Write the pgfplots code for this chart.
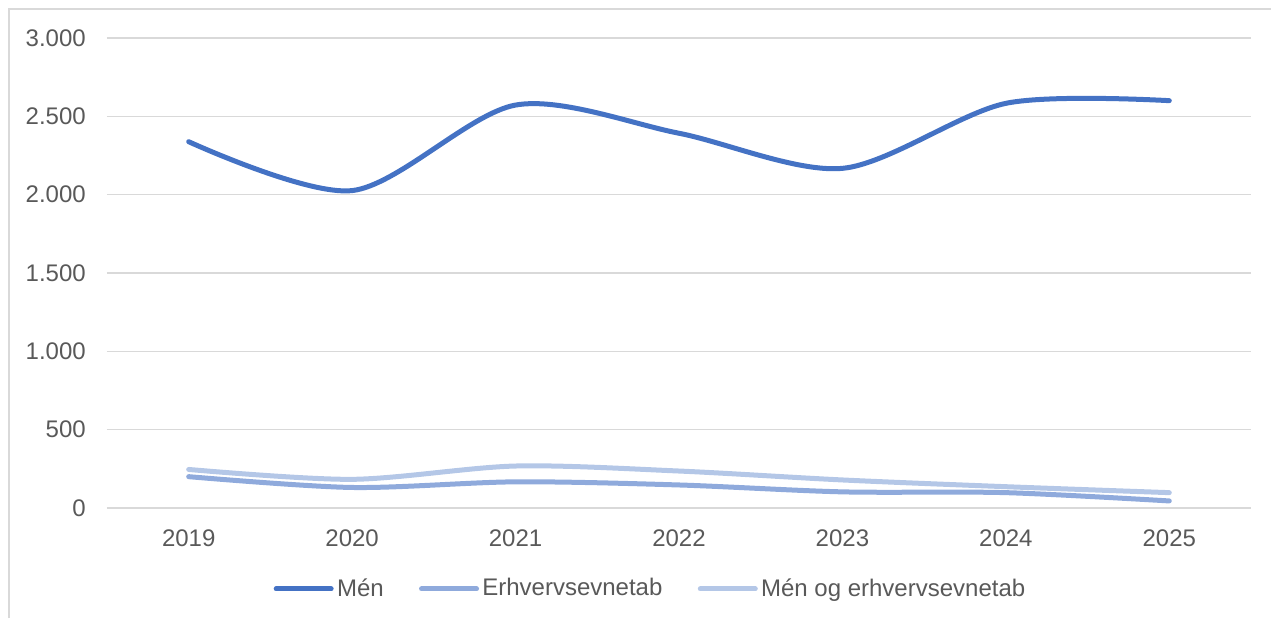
\documentclass[border=0pt]{standalone}
\usepackage{fontspec}
\setmainfont{Liberation Sans}
\usepackage{pgfplots}
\pgfplotsset{compat=1.18}

\definecolor{menblue}{HTML}{4472C4}
\definecolor{erhvblue}{HTML}{8FAADC}
\definecolor{bothblue}{HTML}{B4C7E7}
\definecolor{gridgray}{HTML}{D9D9D9}
\definecolor{textgray}{HTML}{595959}

\begin{document}
\fontsize{18}{21.6}\selectfont
\begin{tikzpicture}
% page = 1271 x 618 px at 0.75pt per px, axis box corner at origin
\useasboundingbox (-80.25pt,-82.5pt) rectangle (873pt,381pt);
\draw[gridgray, line width=1.1pt] (-73.5pt,-82.5pt) -- (-73.5pt,374.25pt) -- (873pt,374.25pt);
\begin{axis}[
    scale only axis,
    width=858pt,
    height=352.5pt,
    xmin=2018.5, xmax=2025.5,
    ymin=0, ymax=3000,
    xtick=data,
    xticklabels={2019,2020,2021,2022,2023,2024,2025},
    ytick={0,500,...,3000},
    scaled y ticks=false,
    /pgf/number format/.cd, 1000 sep={.}, assume math mode=true,
    /pgfplots/.cd,
    axis line style={draw=none},
    tick style={draw=none},
    ymajorgrids,
    grid style={gridgray, line width=1.1pt},
    every tick label/.append style={inner sep=0pt, text=textgray, font=\fontsize{18}{21.6}\selectfont},
    yticklabel style={anchor=east, xshift=-15.75pt},
    xticklabel style={anchor=north, yshift=-15.75pt},
    legend columns=-1,
    legend style={
        draw=none, fill=none, inner sep=0pt,
        at={(0.4742,-0.1723)}, anchor=center,
        nodes={inner sep=0pt, text=textgray, font=\fontsize{18}{21.6}\selectfont},
        /tikz/every odd column/.append style={column sep=2.5pt},
        /tikz/every even column/.append style={column sep=26.5pt},
    },
    legend image code/.code={\draw[#1, line cap=round] (0pt,0pt) -- (41.25pt,0pt);},
    every axis plot/.append style={smooth, line width=3.75pt, line cap=round, no markers},
]
\addplot[menblue] coordinates {
    (2019,2338) (2020,2026) (2021,2572) (2022,2392) (2023,2168) (2024,2583) (2025,2600)
};
\addlegendentry{Mén}
\addplot[erhvblue] coordinates {
    (2019,200) (2020,131) (2021,167) (2022,147) (2023,103) (2024,98) (2025,45)
};
\addlegendentry{Erhvervsevnetab}
\addplot[bothblue] coordinates {
    (2019,246) (2020,183) (2021,268) (2022,236) (2023,179) (2024,136) (2025,98)
};
\addlegendentry{Mén og erhvervsevnetab}
\end{axis}
\end{tikzpicture}
\end{document}
